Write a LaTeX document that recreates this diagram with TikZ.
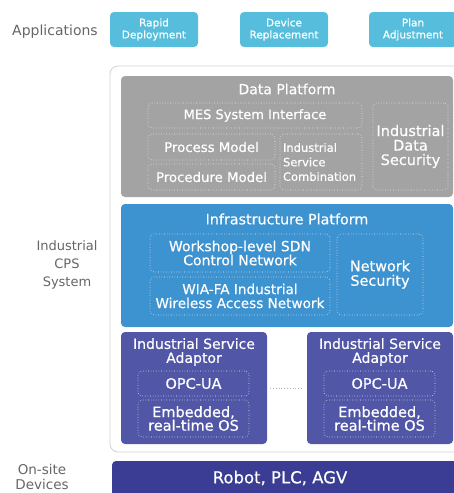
\documentclass[tikz,border=0pt]{standalone}
\usepackage{fontspec}
\setmainfont{DejaVu Sans}
\newfontfamily\boxfont{DejaVu Sans}[FakeBold=0.5]
\usepackage{xcolor}

\definecolor{appblue}{HTML}{56BEDC}
\definecolor{datagray}{HTML}{A3A3A3}
\definecolor{infrablue}{HTML}{3D92D0}
\definecolor{adpviolet}{HTML}{5157A6}
\definecolor{devviolet}{HTML}{3B3D94}
\definecolor{labelgray}{HTML}{666666}

% font size and line distance, in pt
\newcommand{\fs}[2]{\fontsize{#1}{#2}\selectfont}

\tikzset{
	layer/.style={rounded corners=4pt, inner sep=0pt, text=white},
	part/.style={draw=white!85!gray, dotted, line width=0.6pt, rounded corners=4pt,
		inner sep=0pt, text=white, align=center},
	side/.style={text=labelgray, align=center},
}

\begin{document}
\begin{tikzpicture}[x=1pt, y=-1pt]
	\useasboundingbox (0,0) rectangle (454,493);

	% Define the application nodes
	\node[side, font=\fs{14}{16}] (apps) at (55, 32) {Applications};
	\node[layer, fill=appblue, minimum width=88pt, minimum height=35pt, align=center, font=\boxfont\fs{10.5}{12}] (rapid) at (154, 29.5) {Rapid\\Deployment};
	\node[layer, fill=appblue, minimum width=88pt, minimum height=35pt, align=center, font=\boxfont\fs{10.5}{12}] (replace) at (284, 29.5) {Device\\Replacement};
	\node[layer, fill=appblue, minimum width=88pt, minimum height=35pt, align=center, font=\boxfont\fs{10.5}{12}] (adjust) at (413, 29.5) {Plan\\Adjustment};

	% Industrial CPS system frame
	\node[draw=black!18, line width=0.8pt, rounded corners=8pt, minimum width=360pt, minimum height=386pt] (cps) at (290, 259) {};
	\node[side, font=\fs{13}{18}] (cpslabel) at (67, 265) {Industrial\\CPS\\System};

	% Data platform
	\node[layer, fill=datagray, minimum width=332pt, minimum height=121pt] (data) at (287, 136.5) {};
	\node[text=white, font=\boxfont\fs{14}{14}] (datatitle) at (287, 89) {Data Platform};
	\node[part, minimum width=214pt, minimum height=25pt, font=\boxfont\fs{13}{13}] (mes) at (255, 115.5) {MES System Interface};
	\node[part, minimum width=127pt, minimum height=26pt, font=\boxfont\fs{13.3}{13}] (process) at (211.5, 147) {Process Model};
	\node[part, minimum width=127pt, minimum height=26pt, font=\boxfont\fs{13.3}{13}] (procedure) at (211.5, 177) {Procedure Model};
	\node[part, minimum width=82pt, minimum height=56pt, font=\boxfont\fs{11.5}{14.5}, align=left, text width=76pt] (combine) at (321, 162) {Industrial\\Service\\Combination};
	\node[part, minimum width=75pt, minimum height=87pt, font=\boxfont\fs{14.5}{14.5}] (datasec) at (410.5, 146.5) {Industrial\\Data\\Security};

	% Infrastructure platform
	\node[layer, fill=infrablue, minimum width=332pt, minimum height=123pt] (infra) at (287, 265.5) {};
	\node[text=white, font=\boxfont\fs{14.3}{14}] (infratitle) at (287, 219) {Infrastructure Platform};
	\node[part, minimum width=180pt, minimum height=38pt, font=\boxfont\fs{14}{14}] (sdn) at (240, 253) {Workshop-level SDN\\Control Network};
	\node[part, minimum width=180pt, minimum height=38pt, font=\boxfont\fs{13.6}{14}] (wia) at (240, 296) {WIA-FA Industrial\\Wireless Access Network};
	\node[part, minimum width=86pt, minimum height=81pt, font=\boxfont\fs{14.4}{14.5}] (netsec) at (380, 274.5) {Network\\Security};

	% Industrial service adaptors
	\node[layer, fill=adpviolet, minimum width=146pt, minimum height=112pt] (adpL) at (194, 388) {};
	\node[text=white, align=center, font=\boxfont\fs{14}{14}] (adpLtitle) at (194, 352) {Industrial Service\\Adaptor};
	\node[part, minimum width=111pt, minimum height=25pt, font=\boxfont\fs{14.5}{14}] (opcL) at (193.5, 383.5) {OPC-UA};
	\node[part, minimum width=111pt, minimum height=37pt, font=\boxfont\fs{14.5}{13.5}] (osL) at (193.5, 418.5) {Embedded,\\real-time OS};

	\node[layer, fill=adpviolet, minimum width=146pt, minimum height=112pt] (adpR) at (380, 388) {};
	\node[text=white, align=center, font=\boxfont\fs{14}{14}] (adpRtitle) at (380, 352) {Industrial Service\\Adaptor};
	\node[part, minimum width=111pt, minimum height=25pt, font=\boxfont\fs{14.5}{14}] (opcR) at (379.5, 383.5) {OPC-UA};
	\node[part, minimum width=111pt, minimum height=37pt, font=\boxfont\fs{14.5}{13.5}] (osR) at (379.5, 418.5) {Embedded,\\real-time OS};

	\draw[draw=black!30, dotted, line width=0.8pt, shorten <=3pt, shorten >=4pt] (adpL.east) -- (adpR.west);

	% On-site devices
	\node[layer, fill=devviolet, minimum width=350pt, minimum height=36pt] (devices) at (287, 479) {};
	\node[text=white, font=\boxfont\fs{16.5}{16}] (devtext) at (280, 478) {Robot, PLC, AGV};
	\node[side, font=\fs{13.5}{15}] (onsite) at (42, 477) {On-site\\Devices};
\end{tikzpicture}
\end{document}
